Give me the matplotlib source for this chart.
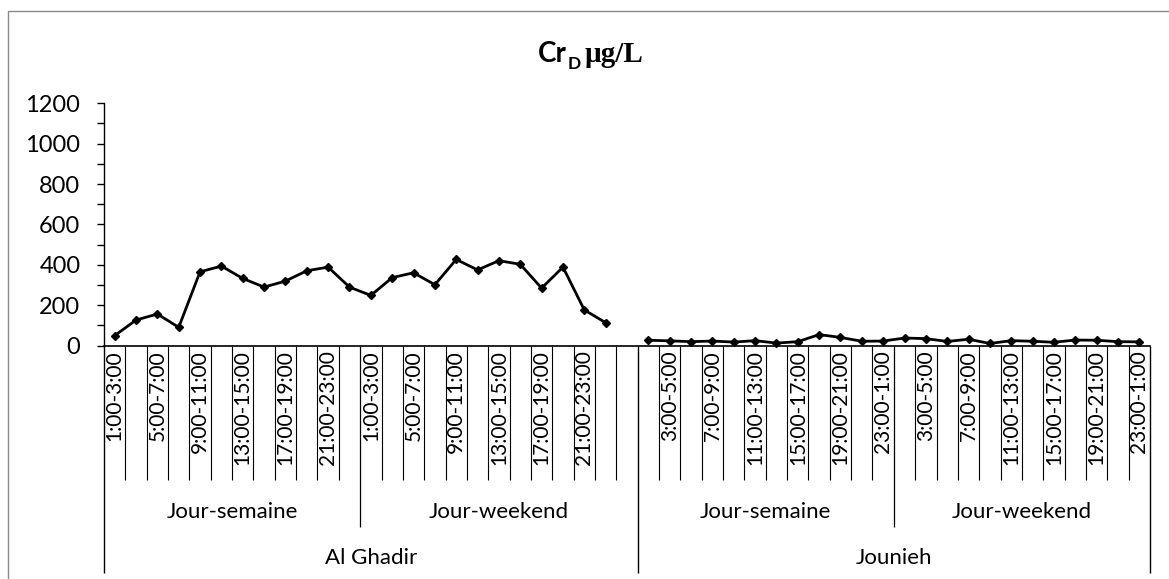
import numpy as np
import matplotlib
matplotlib.use("Agg")
import matplotlib.pyplot as plt
from matplotlib import transforms
from matplotlib.patches import Rectangle
from matplotlib.ticker import MultipleLocator

# ---- data -------------------------------------------------------------
sites = ["Al Ghadir", "Jounieh"]
day_types = ["Jour-semaine", "Jour-weekend"]
slots = ["1:00-3:00", "3:00-5:00", "5:00-7:00", "7:00-9:00", "9:00-11:00",
         "11:00-13:00", "13:00-15:00", "15:00-17:00", "17:00-19:00",
         "19:00-21:00", "21:00-23:00", "23:00-1:00"]

al_ghadir_semaine = [50, 127, 157, 91, 366, 394, 333, 290, 320, 371, 389, 290]
al_ghadir_weekend = [249, 337, 361, 302, 427, 375, 421, 403, 285, 389, 177, 114]
jounieh_semaine = [27, 24, 20, 23, 18, 25, 13, 20, 55, 41, 22, 23]
jounieh_weekend = [38, 35, 21, 32, 11, 25, 22, 17, 28, 27, 20, 19]

# Al Ghadir weekend block carries one extra, empty category at its end
groups = [
    (sites[0], day_types[0], slots, al_ghadir_semaine),
    (sites[0], day_types[1], slots + [""], al_ghadir_weekend + [np.nan]),
    (sites[1], day_types[0], slots, jounieh_semaine),
    (sites[1], day_types[1], slots, jounieh_weekend),
]

labels, values, site_of, day_of = [], [], [], []
for site, day, sl, vals in groups:
    for s, v in zip(sl, vals):
        labels.append(s)
        values.append(v)
        site_of.append(site)
        day_of.append(day)
values = np.array(values, dtype=float)
n = len(values)
xpos = np.arange(n) + 0.5

# ---- figure / layout (pixel based) -----------------------------------
W, H, DPI = 1169, 579, 100
plt.rcParams['font.family'] = ['Lato', 'DejaVu Sans']

fig = plt.figure(figsize=(W / DPI, H / DPI), dpi=DPI)
ax_l, ax_r, ax_top, ax_bot = 104, 1150, 103.3, 345.7
ax = fig.add_axes([ax_l / W, 1 - ax_bot / H, (ax_r - ax_l) / W, (ax_bot - ax_top) / H])

ax.plot(xpos, values, color='black', lw=2.0, marker='D', markersize=4.5,
        markerfacecolor='black', markeredgecolor='black', clip_on=False)

ax.set_xlim(0, n)
ax.set_ylim(0, 1200)
ax.yaxis.set_major_locator(MultipleLocator(200))
ax.yaxis.set_minor_locator(MultipleLocator(100))
ax.tick_params(axis='y', which='both', direction='out', length=5, width=1.0,
               labelsize=17, pad=12, colors='black')
ax.set_xticks([])
for sp in ('top', 'right'):
    ax.spines[sp].set_visible(False)
ax.spines['left'].set_linewidth(1.0)
ax.spines['bottom'].set_linewidth(1.2)

# x data / figure-pixel (from top) transform for the category axis
trans = transforms.blended_transform_factory(ax.transData, fig.transFigure)


def fy(py):
    return 1 - py / H


def vline(x, y0, y1, lw=0.9):
    ax.plot([x, x], [fy(y0), fy(y1)], transform=trans, color='black',
            lw=lw, clip_on=False, solid_capstyle='butt')


# time-slot labels (every second one) and separators
for i, lab in enumerate(labels):
    if i % 2 == 0 and lab:
        ax.text(xpos[i], fy(350), lab, transform=trans, rotation=90,
                ha='center', va='top', fontsize=15, color='black')

day_edges = []
site_edges = [0]
for i in range(1, n):
    if site_of[i] != site_of[i - 1]:
        site_edges.append(i)
    elif day_of[i] != day_of[i - 1]:
        day_edges.append(i)
site_edges.append(n)

for i in range(n + 1):
    if i in site_edges:
        vline(i, ax_bot, 573, lw=1.0)
    elif i in day_edges:
        vline(i, ax_bot, 527, lw=0.9)
    else:
        vline(i, ax_bot, 480, lw=0.8)

# day-type labels
bounds = sorted(set(site_edges + day_edges))
for a, b in zip(bounds[:-1], bounds[1:]):
    ax.text((a + b) / 2, fy(512), day_of[a], transform=trans, ha='center',
            va='center', fontsize=16, color='black')

# site labels
for a, b in zip(site_edges[:-1], site_edges[1:]):
    ax.text((a + b) / 2, fy(558), site_of[a], transform=trans, ha='center',
            va='center', fontsize=16, color='black')

# chart frame
fig.add_artist(Rectangle((8 / W, -0.1), 1.2, 1 - 11 / H + 0.1,
                         transform=fig.transFigure, fill=False,
                         edgecolor='#8a8a8a', lw=1.0))

# title: Cr with subscript D, then unit in serif
fig.canvas.draw()
renderer = fig.canvas.get_renderer()
x0 = 538
base = 61.7
t1 = fig.text(x0 / W, fy(base), "Cr", fontsize=20, fontweight='bold',
              ha='left', va='baseline')
w1 = t1.get_window_extent(renderer).width
t2 = fig.text((x0 + w1 + 1) / W, fy(base + 7), "D", fontsize=12.5,
              fontweight='bold', ha='left', va='baseline')
w2 = t2.get_window_extent(renderer).width
fig.text((x0 + w1 + w2 + 5) / W, fy(base), "\u00b5g/L", fontsize=21,
         fontweight='bold', family=['Liberation Serif', 'DejaVu Serif'],
         ha='left', va='baseline')

fig.savefig("out.png", dpi=DPI, facecolor='white')
